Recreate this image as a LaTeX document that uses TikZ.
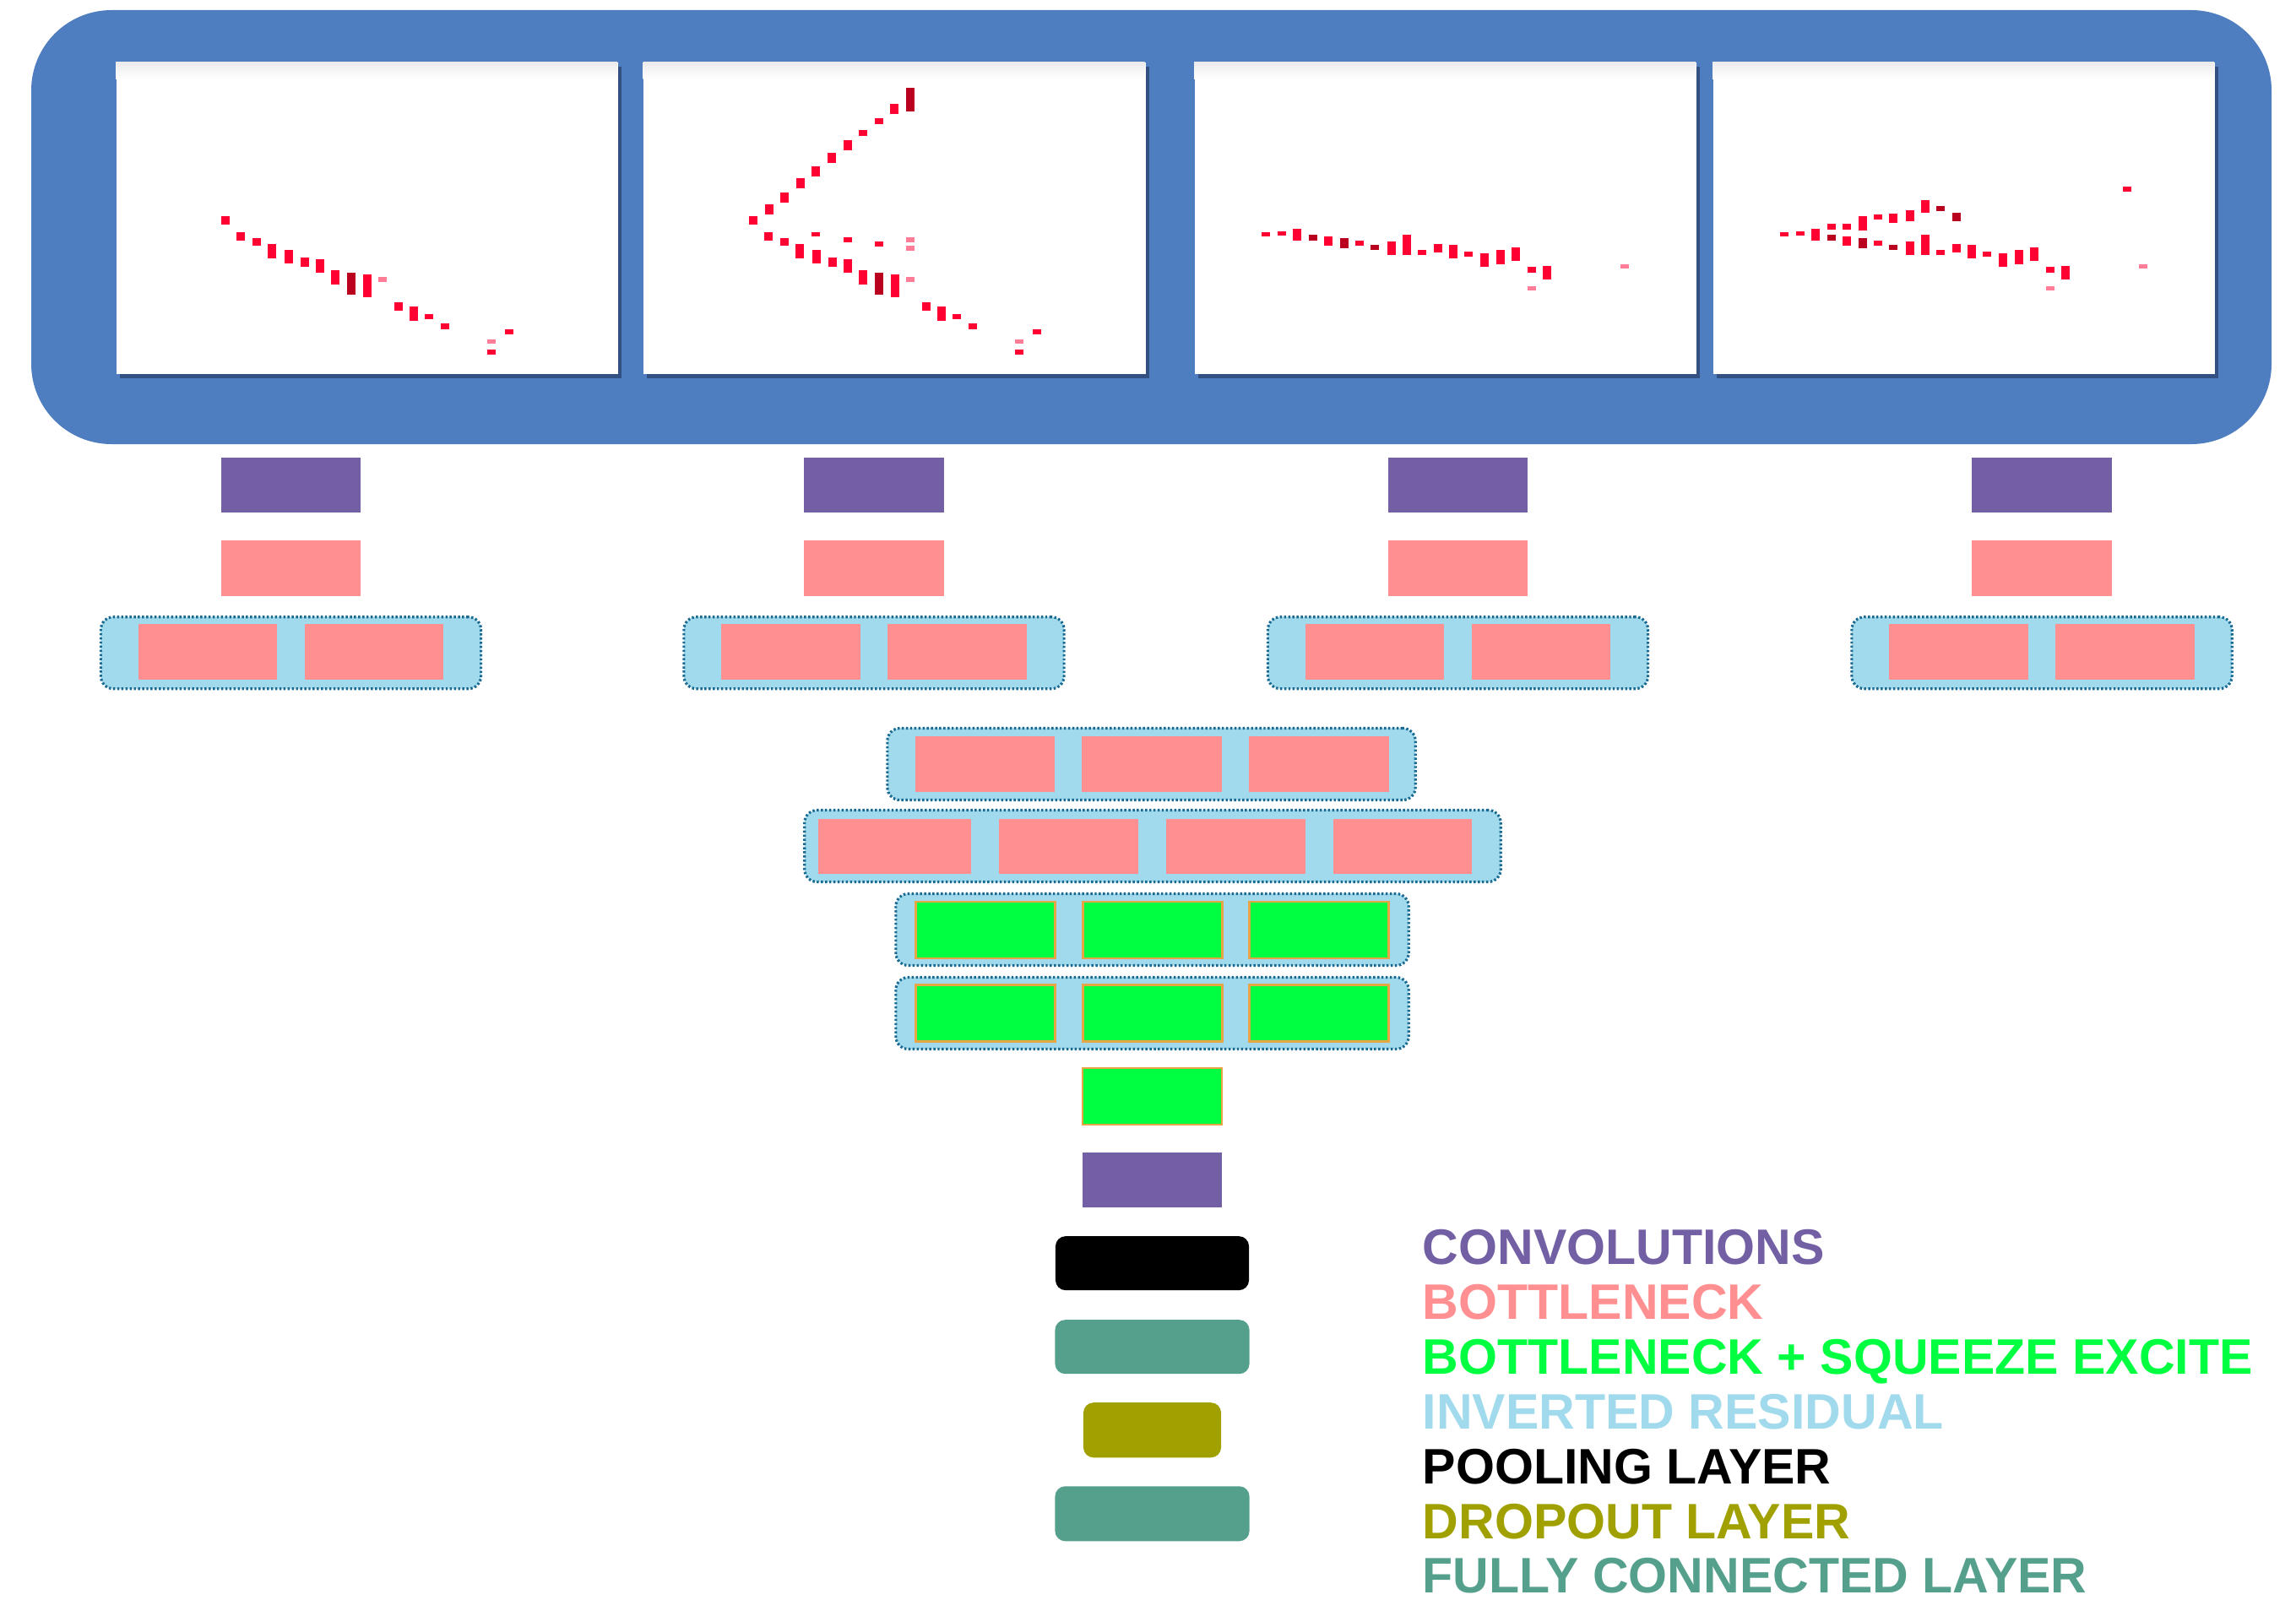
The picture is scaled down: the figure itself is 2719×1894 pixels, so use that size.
\documentclass[tikz,border=0pt]{standalone}
\usepackage{fontspec}
\setmainfont{Liberation Sans}
\usetikzlibrary{positioning, shadows}

\definecolor{frameblue}{RGB}{79,126,192}
\definecolor{shadowblue}{RGB}{38,62,105}
\definecolor{convpurple}{RGB}{115,95,164}
\definecolor{bnpink}{RGB}{255,143,145}
\definecolor{segreen}{RGB}{0,255,64}
\definecolor{seorange}{RGB}{232,165,70}
\definecolor{irblue}{RGB}{160,218,236}
\definecolor{irborder}{RGB}{25,105,145}
\definecolor{dropolive}{RGB}{160,160,0}
\definecolor{fcteal}{RGB}{85,160,140}
\definecolor{trkr}{RGB}{255,0,50}
\definecolor{trkd}{RGB}{185,0,30}
\definecolor{trkl}{RGB}{255,125,150}

\tikzset{
    blockbase/.style={
        inner sep=0pt,
        outer sep=0pt,
        minimum width=1.65cm,
        minimum height=0.66cm
    },
    convbox/.style={blockbase, fill=convpurple, minimum height=0.65cm},
    bnbox/.style={blockbase, fill=bnpink},
    sebox/.style={blockbase, fill=segreen, draw=seorange, line width=0.7pt, minimum height=0.67cm},
    irbox/.style={
        inner sep=0pt,
        fill=irblue,
        draw=irborder,
        line width=0.9pt,
        dash pattern=on 0.7pt off 0.7pt,
        rounded corners=0.15cm,
        minimum height=0.85cm
    },
    poolbox/.style={blockbase, fill=black, rounded corners=0.12cm, minimum width=2.29cm, minimum height=0.64cm},
    fcbox/.style={blockbase, fill=fcteal, rounded corners=0.12cm, minimum width=2.3cm, minimum height=0.65cm},
    dropbox/.style={blockbase, fill=dropolive, rounded corners=0.12cm, minimum width=1.63cm, minimum height=0.65cm},
    panel/.style={
        fill=white,
        inner sep=0pt,
        minimum width=5.94cm,
        minimum height=3.69cm,
        drop shadow={shadow xshift=0.04cm, shadow yshift=-0.05cm, fill=shadowblue, opacity=0.7}
    },
    legend/.style={anchor=base west, inner sep=0pt, font=\fontsize{16.8}{20}\selectfont\bfseries}
}

% hit lists: x / top / height / shade (r, d, l), in pixels from the panel corner
\def\trackA{130/183/10/r, 148/202/10/r, 167/209/9/r, 185/216/17/r, 205/223/16/r,
  224/232/11/r, 242/234/16/r, 260/247/17/r, 279/250/26/d, 298/252/27/r, 316/255/6/l,
  335/285/10/r, 353/290/17/r, 371/299/6/r, 390/310/7/r, 445/329/5/l, 445/341/6/r, 466/317/6/r}
\def\trackB{149/169/12/r, 167/155/12/r, 186/138/12/r, 204/124/12/r, 223/108/12/r,
  242/93/12/r, 260/81/7/r, 279/67/7/r, 297/50/12/r, 316/31/28/d,
  204/202/5/r, 242/208/6/r, 279/213/6/r, 316/208/6/l, 316/218/6/l}
\def\trackC{85/202/5/r, 104/201/5/r, 122/198/14/r, 141/205/7/d, 159/207/11/r, 178/209/12/d,
  196/212/6/r, 214/217/6/d, 234/213/16/r, 252/205/24/r, 270/223/6/r, 289/216/10/r,
  307/217/16/r, 325/225/6/r, 344/227/16/r, 363/223/17/r, 381/220/16/r, 400/243/7/r,
  400/266/5/l, 418/242/16/r, 510/240/5/l}
\def\trackD{141/192/7/r, 159/192/7/r, 178/183/17/r, 196/181/6/r, 214/180/11/r,
  234/176/13/r, 252/164/15/r, 270/171/6/d, 289/179/10/d, 491/148/6/r}

\begin{document}
\begin{tikzpicture}[x=0.01cm, y=-0.01cm]
\useasboundingbox (0,0) rectangle (2719,1894);

% frame with the four event views
\fill[frameblue, rounded corners=0.95cm] (37,12) rectangle (2690,526);
\node[panel] (p1) at (435,258.5) {};
\node[panel] (p2) at (1059.5,258.5) {};
\node[panel] (p3) at (1712,258.5) {};
\node[panel] (p4) at (2326,258.5) {};
\foreach \p in {p1,p2,p3,p4}
  \shade[top color=black!8, bottom color=white] (\p.north west) rectangle ++(594,20);

\begin{scope}[shift={(p1.north west)}]
\foreach \x/\y/\h/\c in \trackA \fill[trk\c] (\x-5,\y) rectangle +(10,\h);
\end{scope}
\begin{scope}[shift={(p2.north west)}]
\foreach \x/\y/\h/\c in \trackA \fill[trk\c] (\x-5,\y) rectangle +(10,\h);
\foreach \x/\y/\h/\c in \trackB \fill[trk\c] (\x-5,\y) rectangle +(10,\h);
\end{scope}
\begin{scope}[shift={(p3.north west)}]
\foreach \x/\y/\h/\c in \trackC \fill[trk\c] (\x-5,\y) rectangle +(10,\h);
\end{scope}
\begin{scope}[shift={(p4.north west)}]
\foreach \x/\y/\h/\c in \trackC \fill[trk\c] (\x-5,\y) rectangle +(10,\h);
\foreach \x/\y/\h/\c in \trackD \fill[trk\c] (\x-5,\y) rectangle +(10,\h);
\end{scope}

% one stem per view
\foreach \i/\cx in {1/344.5, 2/1035, 3/1726.5, 4/2418} {
  \node[convbox] (conv\i) at (\cx,574.5) {};
  \node[bnbox, below=0.33cm of conv\i] (bn\i) {};
  \node[irbox, minimum width=4.5cm, below=0.23cm of bn\i] (ir\i) {};
  \node[bnbox, minimum width=1.64cm] (ir\i a) at (\cx-98.5,772) {};
  \node[bnbox, minimum width=1.64cm] (ir\i b) at (\cx+98.5,772) {};
}

% merged trunk
\node[irbox, minimum width=6.25cm] (rowA) at (1363.5,905) {};
\node[bnbox] (rowA1) at (1166.5,905) {};
\node[bnbox] (rowA2) at (1364,905) {};
\node[bnbox] (rowA3) at (1562,905) {};

\node[irbox, minimum width=8.24cm] (rowB) at (1365,1002) {};
\node[bnbox, minimum width=1.81cm, minimum height=0.65cm] (rowB1) at (1059.5,1002.5) {};
\node[bnbox, minimum width=1.64cm, minimum height=0.65cm] (rowB2) at (1265.5,1002.5) {};
\node[bnbox, minimum width=1.64cm, minimum height=0.65cm] (rowB3) at (1463.5,1002.5) {};
\node[bnbox, minimum width=1.64cm, minimum height=0.65cm] (rowB4) at (1661,1002.5) {};

\node[irbox, minimum width=6.07cm] (rowC) at (1364.5,1101) {};
\node[sebox] (rowC1) at (1167,1101.5) {};
\node[sebox] (rowC2) at (1365,1101.5) {};
\node[sebox] (rowC3) at (1562,1101.5) {};

\node[irbox, minimum width=6.07cm] (rowD) at (1364.5,1200) {};
\node[sebox] (rowD1) at (1167,1200) {};
\node[sebox] (rowD2) at (1365,1200) {};
\node[sebox] (rowD3) at (1562,1200) {};

% head
\node[sebox] (se) at (1364.5,1298.5) {};
\node[convbox, below=0.33cm of se] (convout) {};
\node[poolbox, below=0.34cm of convout] (pool) {};
\node[fcbox, minimum height=0.64cm, below=0.35cm of pool] (fc1) {};
\node[dropbox, below=0.34cm of fc1] (drop) {};
\node[fcbox, below=0.34cm of drop] (fc2) {};

% key
\node[legend, text=convpurple] (lg1) at (1684,1497) {CONVOLUTIONS};
\node[legend, text=bnpink] (lg2) at (1684,1562) {BOTTLENECK};
\node[legend, text=segreen] (lg3) at (1684,1627) {BOTTLENECK + SQUEEZE EXCITE};
\node[legend, text=irblue] (lg4) at (1684,1692) {INVERTED RESIDUAL};
\node[legend, text=black] (lg5) at (1684,1757) {POOLING LAYER};
\node[legend, text=dropolive] (lg6) at (1684,1822) {DROPOUT LAYER};
\node[legend, text=fcteal] (lg7) at (1684,1886) {FULLY CONNECTED LAYER};
\end{tikzpicture}
\end{document}
